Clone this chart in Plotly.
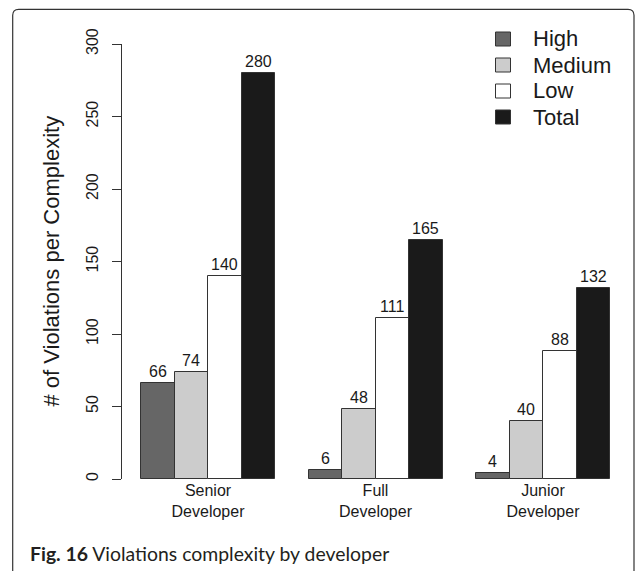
import plotly.graph_objects as go

# ---- data ----
groups = ["Senior<br>Developer", "Full<br>Developer", "Junior<br>Developer"]
series = ["High", "Medium", "Low", "Total"]
high = [66, 6, 4]
medium = [74, 48, 40]
low = [140, 111, 88]
total = [280, 165, 132]
values = [high, medium, low, total]
colors = ["#666666", "#cccccc", "#ffffff", "#1a1a1a"]
yticks = [0, 50, 100, 150, 200, 250, 300]

# ---- layout geometry (pixels) ----
W, H = 637, 571
L, R, T, B = 122, 9, 44, 92
pw, ph = W - L - R, H - T - B
unit = 33.5
x0 = 1 - 19 / unit
x1 = x0 + pw / unit

def px(x):
    return (x - L) / pw

def py(y):
    return (H - B - y) / ph

fig = go.Figure()
n_series = len(series)
for k, (name, vals, col) in enumerate(zip(series, values, colors)):
    xs = [1 + (n_series + 1) * g + k + 0.5 for g in range(len(groups))]
    fig.add_trace(go.Bar(
        x=xs, y=vals, width=1, name=name,
        marker=dict(color=col, line=dict(color="#333333", width=1)),
        showlegend=False, hoverinfo="skip",
    ))
    for xv, yv in zip(xs, vals):
        fig.add_annotation(x=xv, y=yv, text=str(yv), showarrow=False,
                           yanchor="bottom", yshift=1,
                           font=dict(family="Liberation Sans, Arial", size=16, color="#1a1a1a"))

centers = [1 + (n_series + 1) * g + n_series / 2 for g in range(len(groups))]

# custom legend
leg_y0 = 39
for i, (name, col) in enumerate(zip(series, colors)):
    cy = leg_y0 + i * 26
    fig.add_shape(type="rect", xref="paper", yref="paper",
                  x0=px(495.5), x1=px(510.5), y0=py(cy - 7), y1=py(cy + 7),
                  fillcolor=col, line=dict(color="#333333", width=1))
    fig.add_annotation(xref="paper", yref="paper", x=px(531), y=py(cy),
                       text=name, showarrow=False, xanchor="left", yanchor="middle",
                       font=dict(family="Liberation Sans, Arial", size=22, color="#1a1a1a"))

# outer rounded border
bl, bt, br, bb, r = 12.7, 9.3, 634, 590, 6
path = (f"M {px(bl)},{py(bt + r)} "
        f"Q {px(bl)},{py(bt)} {px(bl + r)},{py(bt)} "
        f"L {px(br - r)},{py(bt)} "
        f"Q {px(br)},{py(bt)} {px(br)},{py(bt + r)} "
        f"L {px(br)},{py(bb)} L {px(bl)},{py(bb)} Z")
fig.add_shape(type="path", xref="paper", yref="paper", path=path,
              line=dict(color="#333333", width=1.2), fillcolor="rgba(0,0,0,0)")

# y title
fig.add_annotation(xref="paper", yref="paper", x=px(51), y=0.5,
                   text="# of Violations per Complexity", textangle=-90,
                   showarrow=False, xanchor="center", yanchor="middle",
                   font=dict(family="Liberation Sans, Arial", size=22, color="#1a1a1a"))

# caption
fig.add_annotation(xref="paper", yref="paper", x=px(28), y=py(553),
                   text="<b>Fig. 16</b> Violations complexity by developer",
                   showarrow=False, xanchor="left", yanchor="middle",
                   font=dict(family="Lato", size=19.4, color="#231f20"))

fig.update_layout(
    width=W, height=H,
    margin=dict(l=L, r=R, t=T, b=B, pad=0),
    paper_bgcolor="white", plot_bgcolor="white",
    bargap=0,
    xaxis=dict(range=[x0, x1], tickvals=centers, ticktext=groups,
               showgrid=False, zeroline=False, showline=False, ticks="",
               tickfont=dict(family="Liberation Sans, Arial", size=16, color="#1a1a1a"),
               ticklabelstandoff=0),
    yaxis=dict(range=[0, 300], tickvals=yticks, showgrid=False, zeroline=False,
               showline=True, linecolor="#333333", linewidth=1,
               ticks="outside", ticklen=9, tickcolor="#333333", tickwidth=1,
               tickangle=-90, ticklabelstandoff=8,
               tickfont=dict(family="Liberation Sans, Arial", size=16, color="#1a1a1a")),
    font=dict(family="Liberation Sans, Arial"),
)

fig.write_html("out.html", config={"displayModeBar": False},
               post_script="document.body.style.margin='0';document.body.style.overflow='hidden';")
